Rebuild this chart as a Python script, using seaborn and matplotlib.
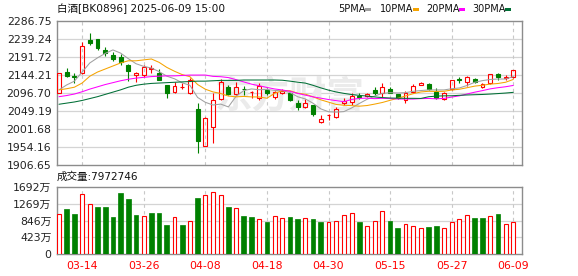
import numpy as np
import pandas as pd
import matplotlib
matplotlib.use('Agg')
import matplotlib.pyplot as plt
import seaborn as sns
from matplotlib.patches import Rectangle

# ---------------- data ----------------
dates = ['03-11', '03-12', '03-13', '03-14', '03-17', '03-18', '03-19', '03-20', '03-21', '03-24',
         '03-25', '03-26', '03-27', '03-28', '03-31', '04-01', '04-02', '04-03', '04-07', '04-08',
         '04-09', '04-10', '04-11', '04-14', '04-15', '04-16', '04-17', '04-18', '04-21', '04-22',
         '04-23', '04-24', '04-25', '04-28', '04-29', '04-30', '05-06', '05-07', '05-08', '05-09',
         '05-12', '05-13', '05-14', '05-15', '05-16', '05-19', '05-20', '05-21', '05-22', '05-23',
         '05-26', '05-27', '05-28', '05-29', '05-30', '06-03', '06-04', '06-05', '06-06', '06-09']

opens = [2097.6, 2153, 2140.5, 2149, 2237, 2238, 2211, 2197, 2191, 2171,
         2144, 2144, 2159, 2150, 2118, 2098.5, 2112.5, 2098, 2054.5, 1958,
         2008, 2080, 2113, 2093, 2107, 2099, 2083, 2105, 2087, 2096,
         2096, 2071, 2059, 2065, 2019, 2038, 2034, 2070, 2074, 2088,
         2090, 2104, 2096, 2107, 2094, 2078, 2100, 2118, 2121, 2100,
         2080, 2106, 2133, 2127, 2133, 2112, 2122, 2147, 2137, 2138]
highs = [2150, 2162, 2150.4, 2231, 2255, 2239, 2219, 2206, 2200, 2172,
         2151, 2171, 2171, 2160, 2118, 2125, 2122, 2136, 2071, 2033,
         2097, 2133, 2118, 2125, 2115, 2101, 2122, 2109, 2103, 2106,
         2098, 2078, 2080, 2066, 2039, 2040, 2061, 2083, 2096, 2096,
         2096, 2112, 2122, 2113, 2095, 2101, 2120, 2127, 2123, 2111,
         2100, 2132, 2138, 2142, 2136, 2122, 2147, 2150, 2144, 2158]
lows = [2096, 2139.8, 2122.2, 2147, 2223, 2210, 2195, 2182, 2171, 2129,
        2127, 2140, 2149, 2130, 2084, 2098, 2106, 2094, 1939, 1957,
        1964, 2078, 2091, 2092, 2091, 2083, 2078, 2091, 2080, 2093,
        2075, 2052, 2058, 2036, 2017, 2025, 2030, 2065, 2065, 2080,
        2085, 2092, 2085, 2096, 2082, 2071, 2098, 2117, 2104, 2081,
        2077, 2105, 2122, 2115, 2122, 2110, 2121, 2131, 2131, 2136]
closes = [2148.6, 2142.5, 2139.8, 2220, 2229, 2216, 2201, 2186, 2178, 2156,
          2149, 2166, 2164, 2131, 2096, 2114, 2113, 2131, 1971, 2032,
          2078, 2125, 2094, 2112, 2106, 2100, 2115, 2097.6, 2098.5, 2102,
          2077, 2059, 2069, 2041, 2028, 2039, 2054, 2076, 2089, 2087,
          2094, 2097, 2112, 2098, 2083, 2098, 2115, 2122, 2106, 2083,
          2098, 2131, 2132, 2139, 2125, 2120, 2146, 2138, 2139, 2157]

ma5 = [2105, 2118, 2128, 2152, 2176, 2189.5, 2201.2, 2210.4, 2202, 2187.4,
       2174, 2167, 2162.6, 2153.2, 2141.2, 2134.2, 2123.6, 2117, 2085, 2072.2,
       2065, 2067.4, 2060, 2088.2, 2103, 2107.4, 2105.4, 2106.1, 2103.5, 2102.6,
       2098, 2086.8, 2081, 2069.6, 2054.8, 2047.2, 2046.2, 2047.6, 2057.2, 2069,
       2080, 2088.6, 2095.8, 2097.6, 2096.8, 2097.6, 2101.2, 2103.2, 2104.8, 2104.8,
       2104.8, 2108, 2110, 2116.6, 2125, 2129.4, 2132.4, 2133.6, 2133.6, 2140]
ma10 = [2105, 2108, 2112, 2123, 2141, 2152, 2160, 2168, 2176, 2181.7,
        2181.7, 2184.1, 2186.5, 2177.6, 2164.3, 2154.1, 2145.3, 2139.8, 2119.1, 2106.7,
        2099.6, 2095.5, 2088.5, 2086.6, 2087.6, 2086.4, 2086.2, 2082.9, 2095.7, 2102.8,
        2102.7, 2096.1, 2093.6, 2086.5, 2078.7, 2072.6, 2066.5, 2064.3, 2063.4, 2061.9,
        2063.6, 2067.4, 2071.7, 2077.4, 2082.9, 2088.8, 2094.9, 2099.5, 2101.2, 2100.8,
        2101.2, 2104.6, 2106.6, 2110.7, 2114.9, 2117.1, 2120.2, 2121.8, 2125.1, 2132.5]
ma20 = [2087, 2090, 2094, 2100, 2107, 2113, 2119, 2124, 2129, 2133,
        2136, 2138, 2140, 2141, 2142, 2142, 2143, 2144, 2144, 2144.1,
        2140.6, 2139.7, 2137.4, 2132, 2125.9, 2120.1, 2115.8, 2111.4, 2107.4, 2104.7,
        2101.1, 2095.7, 2091, 2086.5, 2083.1, 2079.5, 2076.5, 2073.7, 2079.6, 2082.4,
        2083.2, 2081.8, 2082.7, 2082, 2080.8, 2080.7, 2080.7, 2081.9, 2082.3, 2081.4,
        2082.4, 2086, 2089.2, 2094.1, 2098.9, 2103, 2107.6, 2110.7, 2113.2, 2116.7]
ma30 = [2067, 2070, 2073, 2077, 2082, 2087, 2093, 2099, 2105, 2112,
        2117, 2120, 2122, 2123, 2124, 2125, 2126, 2127, 2128, 2128,
        2129, 2130, 2130, 2130, 2131, 2131, 2131, 2131, 2131, 2130.4,
        2128, 2125.2, 2122.8, 2116.9, 2110.2, 2104.3, 2099.4, 2095.7, 2092.7, 2090.4,
        2088.6, 2086.3, 2084.6, 2083.5, 2083, 2082.6, 2082.6, 2082.3, 2086.8, 2088.5,
        2089.2, 2089.4, 2090.6, 2091.5, 2092.2, 2092.8, 2093.9, 2095.2, 2096.6, 2098.4]

# volume in units of 万
volumes = [1008, 1134, 1008, 1509, 1275, 1184, 1184, 934, 1542, 1384,
           984, 959, 1034, 1034, 734, 925, 734, 834, 1409, 1484,
           1575, 1484, 1184, 1150, 959, 934, 875, 817, 959, 908,
           933, 883, 908, 883, 817, 809, 833, 982, 1031, 817,
           710, 833, 1081, 833, 660, 759, 710, 660, 685, 710,
           660, 809, 883, 982, 908, 908, 957, 1015, 759, 797.27]

tick_dates = ['03-14', '03-26', '04-08', '04-18', '04-30', '05-15', '05-27', '06-09']
price_ticks = [1906.65, 1954.16, 2001.68, 2049.19, 2096.70, 2144.21, 2191.72, 2239.24, 2286.75]
vol_ticks = [0, 423, 846, 1269, 1692]
vol_tick_labels = ['0', '423万', '846万', '1269万', '1692万']
title_text = '白酒[BK0896] 2025-06-09 15:00'
last_volume = 7972746
ma_names = ['5PMA', '10PMA', '20PMA', '30PMA']

# ---------------- style ----------------
RED = '#ff0000'
GREEN = '#008000'
MA_COLORS = {'5PMA': '#a0a0a0', '10PMA': '#f5a300', '20PMA': '#ff00ff', '30PMA': '#006f36'}
GRID = '#d4d4d4'
SPINE = '#8c8c8c'

sns.set_theme(style='white')
plt.rcParams['font.family'] = ['DejaVu Sans', 'Noto Sans CJK SC']
plt.rcParams['axes.unicode_minus'] = False

W, H = 578, 276
fig = plt.figure(figsize=(W / 100, H / 100), dpi=100)
fig.patch.set_facecolor('white')


def fx(px):
    return px / W


def fy(py):
    return 1 - py / H


ax = fig.add_axes([fx(57), fy(165), fx(522) - fx(57), fy(21) - fy(165)])
axv = fig.add_axes([fx(57), fy(254), fx(522) - fx(57), fy(187) - fy(254)])

n = len(dates)
xs = np.arange(n)
tick_pos = [dates.index(d) for d in tick_dates]
xlim = (-0.26, 60.13)

for a in (ax, axv):
    a.set_facecolor('white')
    a.set_xlim(*xlim)
    for s in a.spines.values():
        s.set_color(SPINE)
        s.set_linewidth(1.0)
    for t in tick_pos:
        a.axvline(t, color='#c8c8c8', lw=0.8, ls=(0, (3, 3)), zorder=0.5)
    a.tick_params(length=0, pad=4)

# watermark
ax.text(0.50, 0.47, '东方财富', transform=ax.transAxes, fontsize=27, color='#ebebeb',
        ha='center', va='center', zorder=0.6, family=['Noto Sans CJK SC'], fontweight='bold')

# ---------------- price panel ----------------
ax.set_ylim(price_ticks[0], price_ticks[-1])
ax.set_yticks(price_ticks)
ax.set_yticklabels([f'{v:.2f}' for v in price_ticks], fontsize=7.8, color='#222222')
for v in price_ticks[1:-1]:
    ax.axhline(v, color=GRID, lw=0.9, zorder=0.4)
ax.set_xticks([])

w = 0.5
for i in range(n):
    o, h, l, c = opens[i], highs[i], lows[i], closes[i]
    up = c >= o
    col = RED if up else GREEN
    top, bot = max(o, c), min(o, c)
    if top - bot < 1.0:
        mid = (top + bot) / 2
        top, bot = mid + 0.5, mid - 0.5
    ax.vlines(i, top, h, color=col, lw=0.8, zorder=3)
    ax.vlines(i, l, bot, color=col, lw=0.8, zorder=3)
    ax.add_patch(Rectangle((i - w / 2, bot), w, top - bot,
                           facecolor='none' if up else col, edgecolor=col,
                           lw=0.8, zorder=3))

ma_df = pd.DataFrame({'idx': np.tile(xs, 4),
                      'value': ma5 + ma10 + ma20 + ma30,
                      'ma': np.repeat(ma_names, n)})
sns.lineplot(data=ma_df, x='idx', y='value', hue='ma', palette=MA_COLORS,
             hue_order=ma_names, ax=ax, legend=False, linewidth=0.75, zorder=4)
ax.set_xlabel('')
ax.set_ylabel('')
ax.set_xlim(*xlim)
ax.set_ylim(price_ticks[0], price_ticks[-1])

# ---------------- volume panel ----------------
axv.set_ylim(0, vol_ticks[-1])
axv.set_yticks(vol_ticks)
axv.set_yticklabels(vol_tick_labels, fontsize=7.8, color='#222222')
for v in vol_ticks[1:-1]:
    axv.axhline(v, color=GRID, lw=0.9, zorder=0.4)
for i in range(n):
    prev = closes[i - 1] if i > 0 else opens[i]
    up = closes[i] >= prev
    if up:
        axv.bar(i, volumes[i], width=0.5, facecolor='white', edgecolor=RED, lw=0.8, zorder=3)
    else:
        axv.bar(i, volumes[i], width=0.6, facecolor=GREEN, edgecolor=GREEN, lw=0.5, zorder=3)
axv.set_xticks(tick_pos)
axv.set_xticklabels(tick_dates, fontsize=7.8, color=RED)
axv.tick_params(axis='x', pad=5)

# ---------------- header texts ----------------
fig.text(fx(57), fy(9), title_text, fontsize=7.6, color='#111111', ha='left', va='center')
fig.text(fx(57), fy(177), f'成交量:{last_volume}', fontsize=7.6, color='#111111',
         ha='left', va='center')

legend_text_x = [338, 380, 426, 472]
legend_box_x = [365, 413, 459, 505]
for name, tx, bx in zip(ma_names, legend_text_x, legend_box_x):
    fig.text(fx(tx), fy(9), name, fontsize=7.0, color='#111111', ha='left', va='center')
    fig.patches.append(Rectangle((fx(bx), fy(11)), fx(6), fy(8) - fy(11),
                                 transform=fig.transFigure, facecolor=MA_COLORS[name],
                                 edgecolor='none', figure=fig))

fig.savefig('out.png', dpi=100, facecolor='white')
